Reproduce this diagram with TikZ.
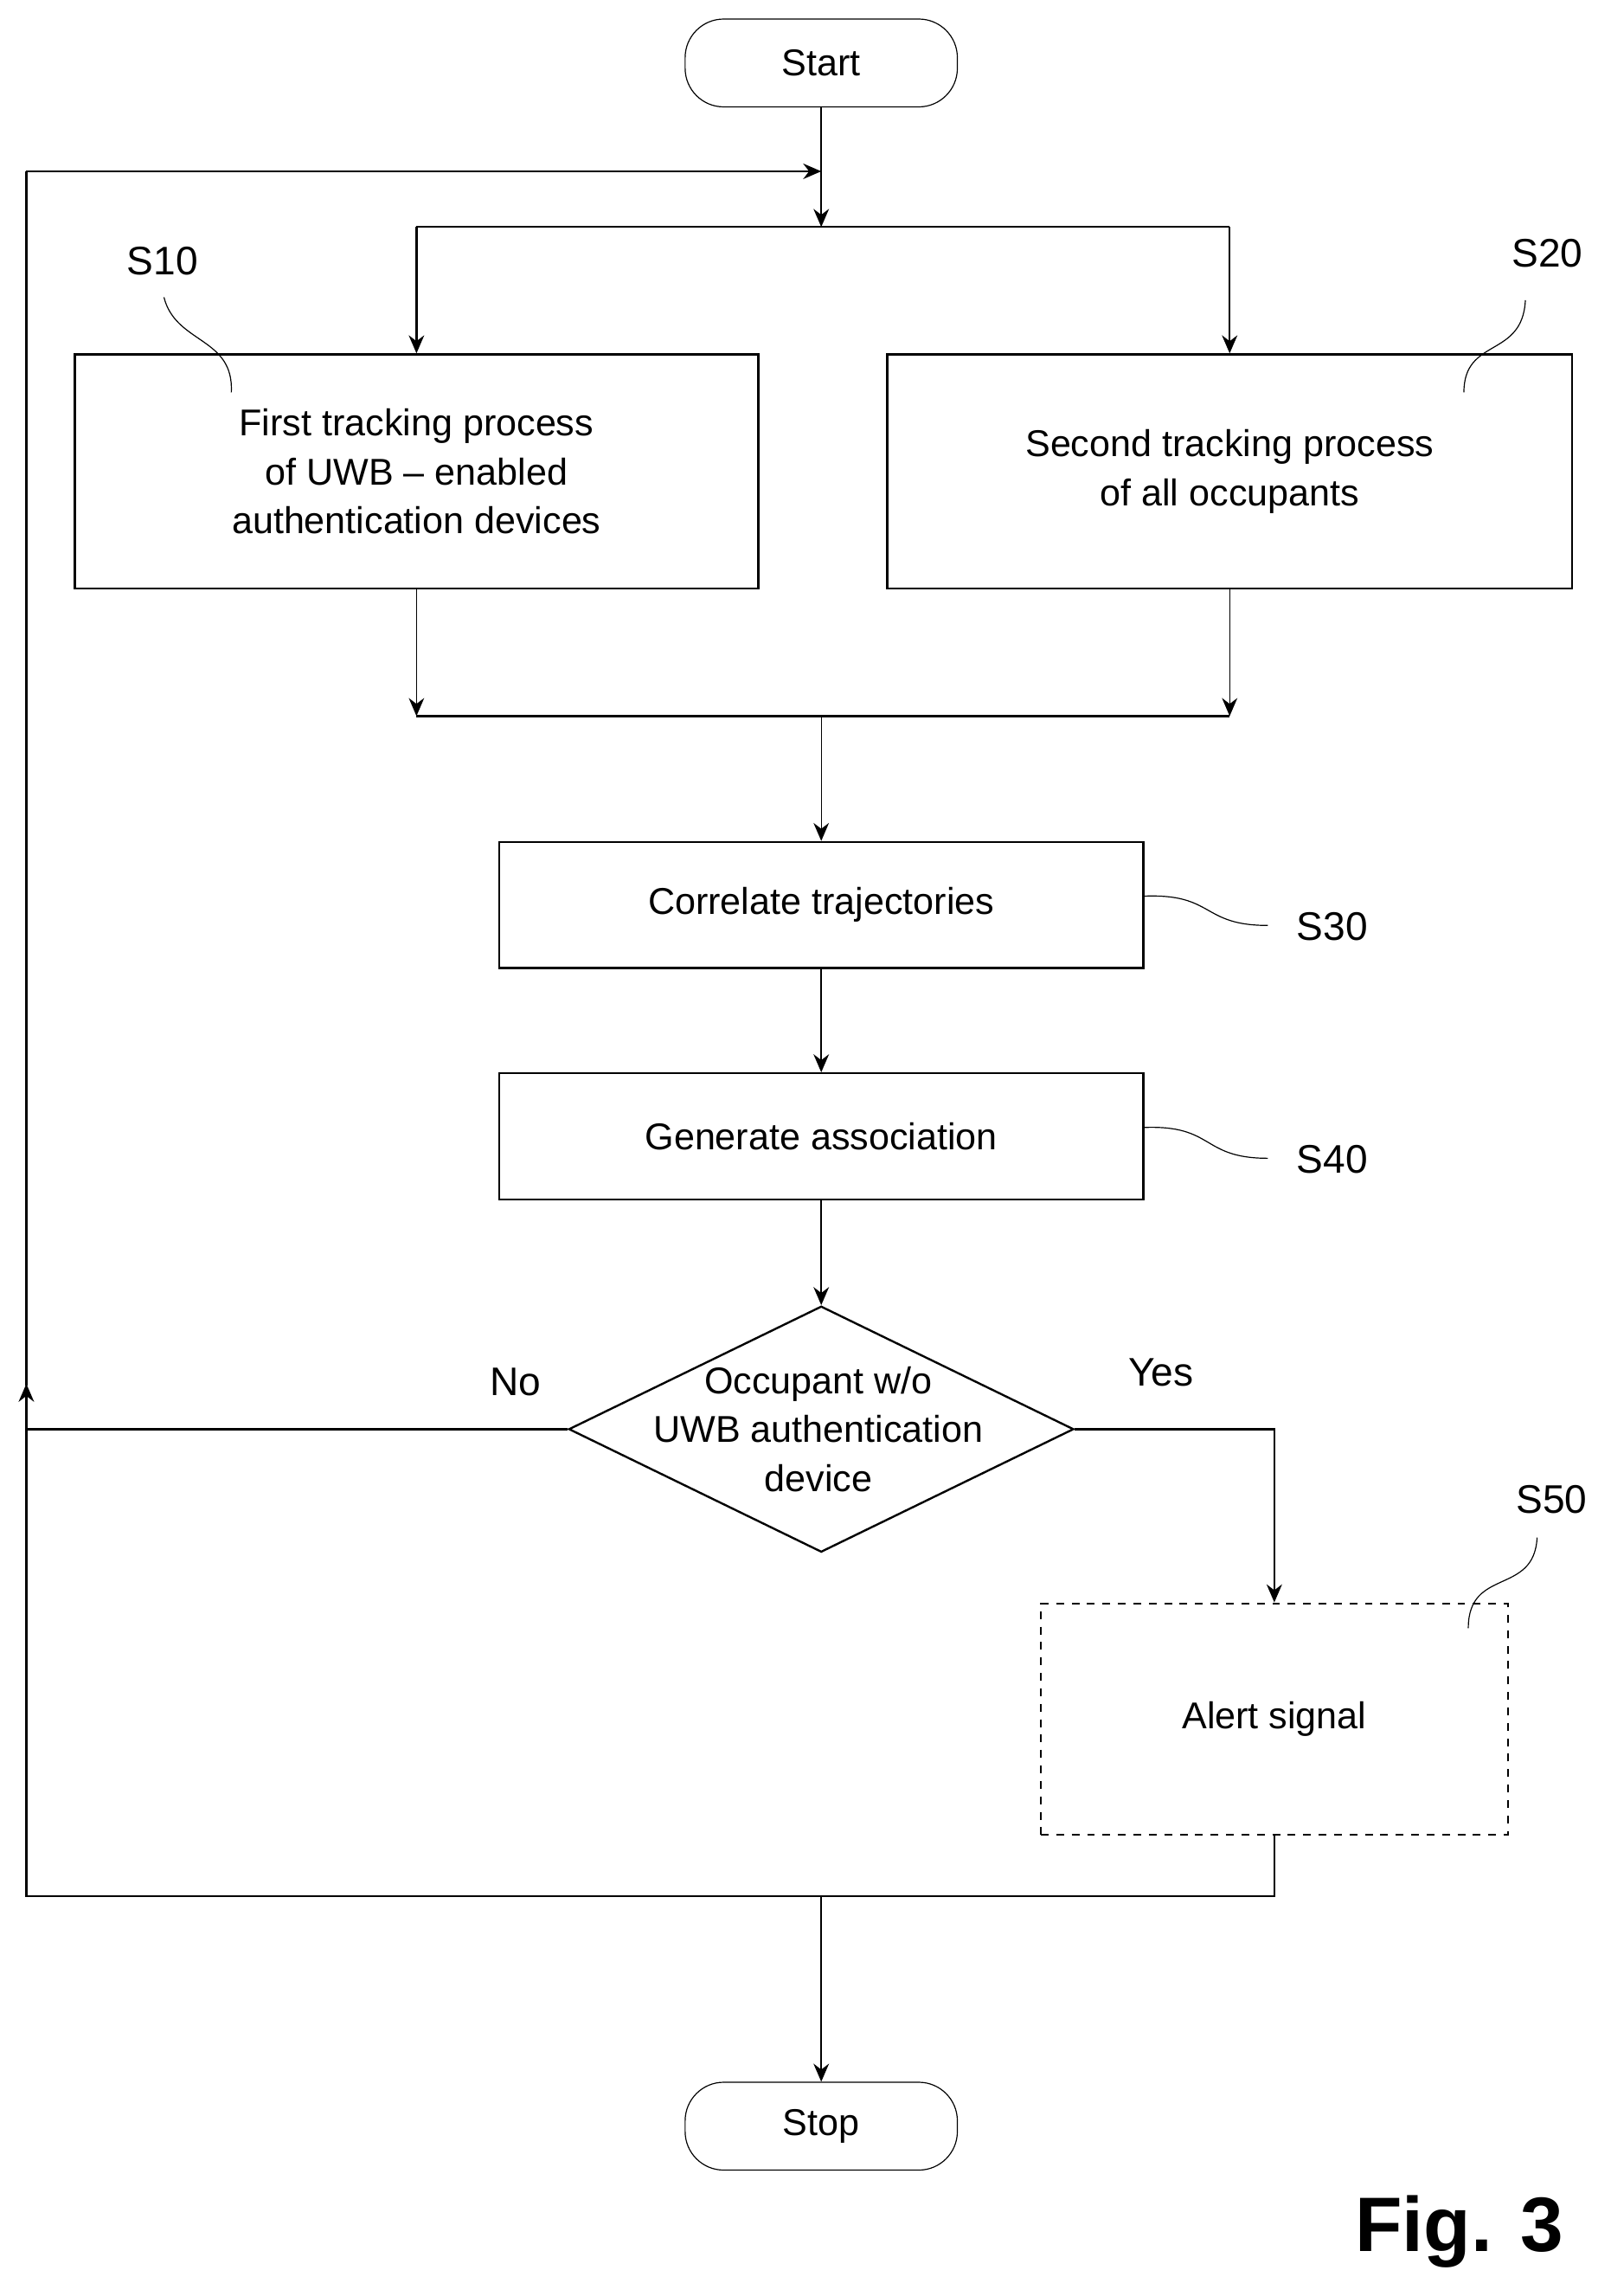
\documentclass[tikz,border=0pt]{standalone}
\usepackage{fontspec}
\setmainfont{Liberation Sans}
\usetikzlibrary{shapes.geometric,arrows.meta}
\begin{document}
\begin{tikzpicture}[x=0.02cm, y=-0.02cm,
  every node/.style={font=\fontsize{14.5}{19}\selectfont},
  box/.style={draw, thick, align=center, inner sep=0pt},
  term/.style={draw, rounded corners=15pt, minimum width=3.72cm, minimum height=1.2cm},
  lbl/.style={font=\fontsize{15.5}{18}\selectfont},
  arr/.style={-{Stealth[length=7pt,width=6pt]}}]
\useasboundingbox (0,0) rectangle (1100,1568);
\node[term] (start) at (561,43) {Start};
\node[term] (stop) at (561,1452) {Stop};
\node[box, minimum width=9.34cm, minimum height=3.2cm] (s10) at (284.5,322) {First tracking process\\of UWB -- enabled\\authentication devices};
\node[box, minimum width=9.36cm, minimum height=3.2cm] (s20) at (840,322) {Second tracking process\\of all occupants};
\node[box, minimum width=8.8cm, minimum height=1.72cm] (s30) at (561,618) {Correlate trajectories};
\node[box, minimum width=8.8cm, minimum height=1.72cm] (s40) at (561,776) {Generate association};
\node[draw, thick, diamond, aspect=2.05, minimum width=6.9cm, minimum height=3.36cm, inner sep=0pt] (dec) at (561,976) {};
\node[align=center] (dectxt) at (559,976) {Occupant w/o\\UWB authentication\\device};
\node[box, dashed, minimum width=6.38cm, minimum height=3.16cm] (s50) at (870.5,1174) {Alert signal};
\coordinate (top) at (561,117);
\coordinate (split) at (561,155);
\coordinate (join) at (561,489);
\coordinate (ret) at (561,1295);
\coordinate (cl) at (18,117);
\coordinate (nl) at (18,976);
\coordinate (bl) at (18,1295);
% start and split
\draw[thick] (start) -- (top);
\draw[arr, thick] (top) -- (split);
\draw[thick] (284.5,155) -- (840,155);
\draw[arr, thick] (284.5,155) -- (s10.north);
\draw[arr, thick] (840,155) -- (s20.north);
% join
\draw[arr] (s10.south) -- (284.5,489);
\draw[arr] (s20.south) -- (840,489);
\draw[very thick] (284.5,489) -- (840,489);
\draw[arr] (join) -- (s30);
\draw[arr, thick] (s30) -- (s40);
\draw[arr, thick] (s40) -- (dec);
% decision
\draw[thick] (dec.west) -- (nl);
\draw[arr, thick] (dec.east) -| (s50.north);
\draw[thick] (s50.south) |- (bl) -- (nl);
\draw[arr, thick] (nl) -- (18,945);
\draw[thick] (18,946) -- (cl);
\draw[arr, thick] (cl) -- (top);
\draw[arr, thick] (ret) -- (stop);
\node[lbl] (no) at (352,944) {No};
\node[lbl] (yes) at (793,937) {Yes};
% step labels
\node[lbl] (l10) at (111,178) {S10};
\node[lbl] (l20) at (1057,173) {S20};
\node[lbl] (l30) at (910,633) {S30};
\node[lbl] (l40) at (910,792) {S40};
\node[lbl] (l50) at (1060,1024) {S50};
\draw (158,268) .. controls (160,230) and (120,235) .. (112,203);
\draw (1000,268) .. controls (1000,230) and (1040,245) .. (1042,205);
\draw (781,612) .. controls (830,610) and (820,632) .. (866,632);
\draw (781,770) .. controls (830,768) and (820,791) .. (866,791);
\draw (1003,1112) .. controls (1003,1070) and (1048,1090) .. (1050,1050);
\node[font=\fontsize{30}{34}\selectfont\bfseries] (fig) at (997,1524) {Fig. 3};
\end{tikzpicture}
\end{document}
